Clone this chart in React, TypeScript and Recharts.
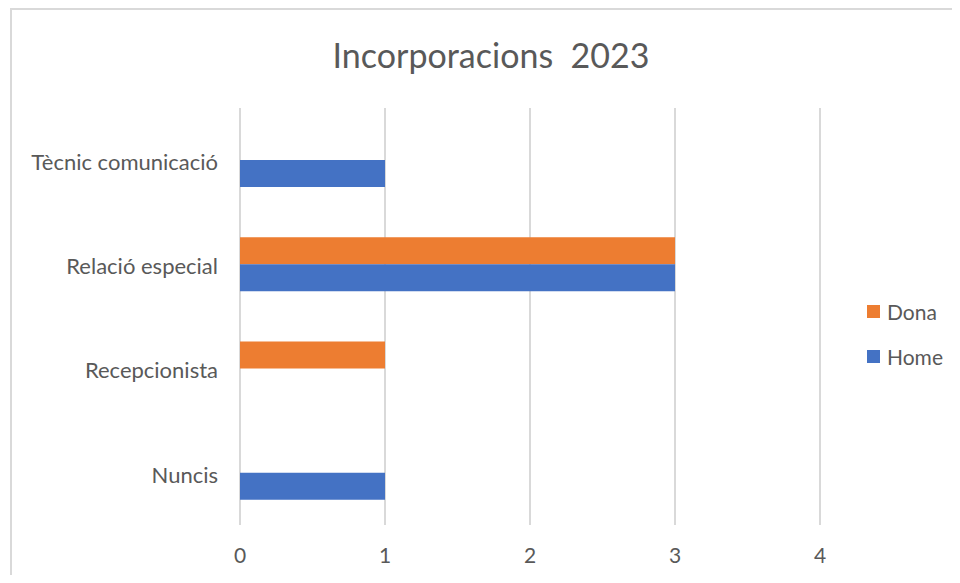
import { BarChart, Bar, XAxis, YAxis, CartesianGrid } from 'recharts';

const categories = ['Tècnic comunicació', 'Relació especial', 'Recepcionista', 'Nuncis'];
const dona = [0, 3, 1, 0];
const home = [1, 3, 0, 1];
const xTicks = [0, 1, 2, 3, 4];

const series = [
  { key: 'Dona', color: '#ED7D31' },
  { key: 'Home', color: '#4472C4' }
];

const data = categories.map((name, i) => ({ name, Dona: dona[i], Home: home[i] }));

const FONT = 'Lato, "Open Sans", sans-serif';
const TEXT = '#595959';

export default function App() {
  return (
    <div style={{ position: 'relative', width: 960, height: 583, margin: -8, overflow: 'hidden', background: '#fff', fontFamily: FONT }}>
      <div style={{ position: 'absolute', left: 10, top: 8, width: 1000, height: 700, border: '2px solid #d9d9d9', boxSizing: 'border-box' }} />
      <div style={{ position: 'absolute', left: 0, top: 34, width: 982, textAlign: 'center', fontSize: 34, color: TEXT, whiteSpace: 'pre' }}>
        {'Incorporacions  2023'}
      </div>
      <BarChart
        width={960}
        height={583}
        data={data}
        layout='vertical'
        margin={{ top: 108, right: 140, bottom: 0, left: 0 }}
        barCategoryGap='24%'
        barGap={0}
        style={{ position: 'absolute', left: 0, top: 0 }}
      >
        <CartesianGrid horizontal={false} stroke='#d9d9d9' strokeWidth={2} />
        <XAxis
          type='number'
          domain={[0, 4]}
          ticks={xTicks}
          height={58}
          axisLine={false}
          tickLine={false}
          tickSize={0}
          tickMargin={23}
          tick={{ fill: TEXT, fontSize: 21, fontFamily: FONT }}
        />
        <YAxis
          type='category'
          dataKey='name'
          width={240}
          axisLine={false}
          tickLine={false}
          tickSize={0}
          tickMargin={22}
          tick={{ fill: TEXT, fontSize: 22, fontFamily: FONT, dy: 2 }}
        />
        {series.map((s) => (
          <Bar key={s.key} dataKey={s.key} fill={s.color} isAnimationActive={false} />
        ))}
      </BarChart>
      <div style={{ position: 'absolute', left: 867, top: 297 }}>
        {series.map((s) => (
          <div key={s.key} style={{ display: 'flex', alignItems: 'center', height: 28, marginBottom: 17 }}>
            <span style={{ width: 13, height: 13, background: s.color, display: 'inline-block', marginRight: 7 }} />
            <span style={{ color: TEXT, fontSize: 21 }}>{s.key}</span>
          </div>
        ))}
      </div>
    </div>
  );
}
